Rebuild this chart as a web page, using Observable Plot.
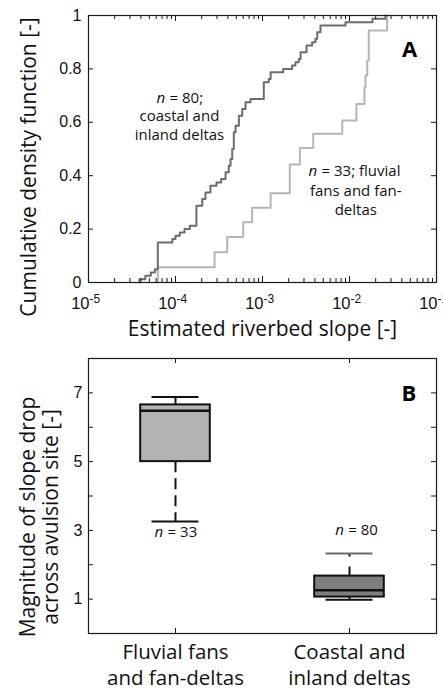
<!DOCTYPE html>
<html><head><meta charset="utf-8">
<script src="https://cdn.jsdelivr.net/npm/d3@7"></script>
<script src="https://cdn.jsdelivr.net/npm/@observablehq/plot@0.6"></script>
<style>
body{margin:0;background:#fff;width:443px;height:689px;overflow:hidden}
#chart svg{display:block;overflow:hidden}
</style></head><body><div id="chart"></div>
<script>
// ---------- Panel A: empirical CDFs of estimated riverbed slope ----------
const deltaSlope = [3.85e-5, 3.85e-5, 4.5e-5, 5.2e-5, 5.8e-5, 6.26e-5, 9.2e-5, 1.0e-4, 1.12e-4, 1.27e-4, 1.46e-4, 1.74e-4, 2.03e-4, 2.21e-4, 2.52e-4, 2.96e-4, 3.35e-4, 3.76e-4, 4.1e-4, 4.29e-4, 4.49e-4, 4.68e-4, 4.9e-4, 5.35e-4, 5.85e-4, 6.38e-4, 7.28e-4, 1.035e-3, 1.18e-3, 1.24e-3, 1.73e-3, 2.19e-3, 2.39e-3, 2.61e-3, 2.74e-3, 3.21e-3, 3.72e-3, 4.06e-3, 4.26e-3, 4.64e-3, 9.0e-3, 0.0184, 0.0259];
const deltaCdf = [0, 0.0125, 0.025, 0.0375, 0.05, 0.15, 0.1625, 0.175, 0.1875, 0.2, 0.2125, 0.2875, 0.3125, 0.3375, 0.3625, 0.375, 0.3875, 0.4125, 0.4375, 0.4625, 0.5, 0.5625, 0.5875, 0.625, 0.65, 0.675, 0.6875, 0.75, 0.7625, 0.7875, 0.8, 0.8125, 0.825, 0.8375, 0.8625, 0.8875, 0.9, 0.9125, 0.9375, 0.9625, 0.975, 0.9875, 1];
const fanSlope = [6.26e-5, 6.26e-5, 2.81e-4, 3.93e-4, 6.0e-4, 7.6e-4, 1.24e-3, 2.06e-3, 2.69e-3, 3.83e-3, 8.25e-3, 0.0120, 0.01486, 0.01527, 0.0160, 0.01666, 0.0271];
const fanCdf = [0, 0.057, 0.113, 0.17, 0.226, 0.28, 0.334, 0.442, 0.504, 0.557, 0.607, 0.669, 0.731, 0.775, 0.831, 0.944, 1];
const xDecades = [1e-5, 1e-4, 1e-3, 1e-2, 1e-1];
const xDecadeExponents = ["-5", "-4", "-3", "-2", "-1"];
const minorMultipliers = [2, 3, 4, 5, 6, 7, 8, 9];
const cdfTicks = [0, 0.2, 0.4, 0.6, 0.8, 1];
const cdfTickLabels = ["0", "0.2", "0.4", "0.6", "0.8", "1"];

// ---------- Panel B: slope drop box plots ----------
const categories = ["Fluvial fans\nand fan-deltas", "Coastal and\ninland deltas"];
const categoryPos = [1, 2];
const boxQ1 = [5.0, 1.06];
const boxMedian = [6.48, 1.26];
const boxQ3 = [6.65, 1.67];
const whiskerLow = [3.26, 0.98];
const whiskerHigh = [6.88, 2.33];
const sampleSizes = [33, 80];
const boxFills = ["#b3b3b3", "#7e7e7e"];
const upperCapColors = ["#111", "#6a6a6a"];
const slopeDropTicks = [1, 2, 3, 4, 5, 6, 7];
const slopeDropLabels = [1, 3, 5, 7];

const W = 443;
const SANS = "'Open Sans', sans-serif";
const TICKF = "'Liberation Sans', Arial, sans-serif";
const FRAME = "#1a1a1a";

// ---------- Panel A ----------
const A = {h: 345, mt: 15, mb: 63, ml: 88, mr: 7};
const fhA = A.h - A.mt - A.mb, fwA = W - A.ml - A.mr;
const deltaData = deltaSlope.map((x, i) => ({x, y: deltaCdf[i]}));
const fanData = fanSlope.map((x, i) => ({x, y: fanCdf[i]}));
const minorTicks = xDecades.slice(0, -1).flatMap(d => minorMultipliers.map(k => k * d));

const plotA = Plot.plot({
  width: W, height: A.h,
  marginTop: A.mt, marginBottom: A.mb, marginLeft: A.ml, marginRight: A.mr,
  x: {type: "log", domain: [1e-5, 1e-1], axis: null},
  y: {domain: [0, 1], axis: null},
  style: {background: "white"},
  marks: [
    Plot.line(fanData, {x: "x", y: "y", curve: "step-after", stroke: "#b5b5b5", strokeWidth: 2}),
    Plot.line(deltaData, {x: "x", y: "y", curve: "step-after", stroke: "#6c6c6c", strokeWidth: 2}),
    Plot.frame({stroke: FRAME, strokeWidth: 1.2}),
    Plot.tickX(xDecades, {x: Plot.identity, insetTop: fhA - 6, stroke: FRAME}),
    Plot.tickX(xDecades, {x: Plot.identity, insetBottom: fhA - 6, stroke: FRAME}),
    Plot.tickX(minorTicks, {x: Plot.identity, insetTop: fhA - 4, stroke: FRAME}),
    Plot.tickX(minorTicks, {x: Plot.identity, insetBottom: fhA - 4, stroke: FRAME}),
    Plot.tickY(cdfTicks, {y: Plot.identity, insetRight: fwA - 5, stroke: FRAME}),
    Plot.tickY(cdfTicks, {y: Plot.identity, insetLeft: fwA - 5, stroke: FRAME}),
    Plot.text(cdfTicks, {y: Plot.identity, text: (d, i) => cdfTickLabels[i], frameAnchor: "left", textAnchor: "end", dx: -7, fontFamily: TICKF, fontSize: 16, fill: "#111"}),
    Plot.text(xDecades, {x: Plot.identity, text: () => "10", frameAnchor: "bottom", textAnchor: "end", lineAnchor: "bottom", dx: 1, dy: 26, fontFamily: TICKF, fontSize: 16.5, fill: "#111"}),
    Plot.text(xDecades, {x: Plot.identity, text: (d, i) => xDecadeExponents[i], frameAnchor: "bottom", textAnchor: "start", lineAnchor: "bottom", dx: 1, dy: 20, fontFamily: TICKF, fontSize: 12, fill: "#111"}),
    Plot.text(["Estimated riverbed slope [-]"], {text: Plot.identity, frameAnchor: "bottom", lineAnchor: "bottom", dy: 53, fontFamily: SANS, fontSize: 21, fill: "#111"}),
    Plot.text(["Cumulative density function [-]"], {text: Plot.identity, frameAnchor: "left", textAnchor: "middle", rotate: -90, dx: -59, dy: 18, fontFamily: SANS, fontSize: 21, fill: "#111"}),
    // annotations
    Plot.text(["n"], {x: [6.05e-5], y: [0.674], text: Plot.identity, textAnchor: "start", lineAnchor: "bottom", fontStyle: "italic", fontFamily: SANS, fontSize: 15, fill: "#111"}),
    Plot.text(["= 80;"], {x: [6.05e-5], y: [0.674], text: Plot.identity, textAnchor: "start", lineAnchor: "bottom", dx: 13, fontFamily: SANS, fontSize: 15, fill: "#111"}),
    Plot.text(["coastal and\ninland deltas"], {x: [1.11e-4], y: [0.532], text: Plot.identity, lineAnchor: "bottom", lineHeight: 19 / 15, fontFamily: SANS, fontSize: 15, fill: "#111"}),
    Plot.text(["n"], {x: [3.38e-3], y: [0.40], text: Plot.identity, textAnchor: "start", lineAnchor: "bottom", fontStyle: "italic", fontFamily: SANS, fontSize: 15, fill: "#111"}),
    Plot.text(["= 33; fluvial"], {x: [3.38e-3], y: [0.40], text: Plot.identity, textAnchor: "start", lineAnchor: "bottom", dx: 13, fontFamily: SANS, fontSize: 15, fill: "#111"}),
    Plot.text(["fans and fan-\ndeltas"], {x: [0.0118], y: [0.251], text: Plot.identity, lineAnchor: "bottom", lineHeight: 19 / 15, fontFamily: SANS, fontSize: 15, fill: "#111"}),
    Plot.text(["A"], {x: [0.049], y: [0.846], text: Plot.identity, lineAnchor: "bottom", fontWeight: "bold", fontFamily: SANS, fontSize: 22, fill: "#000"})
  ]
});

// ---------- Panel B ----------
const B = {h: 344, mt: 13, mb: 56, ml: 88, mr: 7};
const fhB = B.h - B.mt - B.mb, fwB = W - B.ml - B.mr;
const boxes = categoryPos.map((pos, i) => ({
  pos, q1: boxQ1[i], med: boxMedian[i], q3: boxQ3[i], lo: whiskerLow[i], hi: whiskerHigh[i],
  fill: boxFills[i], cap: upperCapColors[i], n: sampleSizes[i]
}));
const halfBox = 0.2, halfCap = 0.135;
const nLabelX = [0.88, 1.918];
const nLabelY = [2.80, 2.86];

const boxMarks = boxes.flatMap((b, i) => [
  Plot.ruleX([b], {x: "pos", y1: "q1", y2: "lo", stroke: "#111", strokeWidth: 2, strokeDasharray: "11,6"}),
  Plot.ruleX([b], {x: "pos", y1: "q3", y2: "hi", stroke: "#111", strokeWidth: 2, strokeDasharray: "9,10"}),
  Plot.rect([b], {x1: d => d.pos - halfBox, x2: d => d.pos + halfBox, y1: "q1", y2: "q3", fill: b.fill, stroke: "#111", strokeWidth: 2}),
  Plot.ruleY([b], {y: "med", x1: d => d.pos - halfBox, x2: d => d.pos + halfBox, stroke: "#111", strokeWidth: 2.5}),
  Plot.ruleY([b], {y: "lo", x1: d => d.pos - halfCap, x2: d => d.pos + halfCap, stroke: "#111", strokeWidth: 2}),
  Plot.ruleY([b], {y: "hi", x1: d => d.pos - halfCap, x2: d => d.pos + halfCap, stroke: b.cap, strokeWidth: 2}),
  Plot.text(["n"], {x: [nLabelX[i]], y: [nLabelY[i]], text: Plot.identity, textAnchor: "start", lineAnchor: "bottom", fontStyle: "italic", fontFamily: SANS, fontSize: 15, fill: "#111"}),
  Plot.text([`= ${b.n}`], {x: [nLabelX[i]], y: [nLabelY[i]], text: Plot.identity, textAnchor: "start", lineAnchor: "bottom", dx: 13, fontFamily: SANS, fontSize: 15, fill: "#111"})
]);

const plotB = Plot.plot({
  width: W, height: B.h,
  marginTop: B.mt, marginBottom: B.mb, marginLeft: B.ml, marginRight: B.mr,
  x: {domain: [0.5, 2.5], axis: null},
  y: {domain: [0, 8], axis: null},
  style: {background: "white"},
  marks: [
    ...boxMarks,
    Plot.frame({stroke: FRAME, strokeWidth: 1.2}),
    Plot.tickX(categoryPos, {x: Plot.identity, insetTop: fhB - 5, stroke: FRAME}),
    Plot.tickX(categoryPos, {x: Plot.identity, insetBottom: fhB - 5, stroke: FRAME}),
    Plot.tickY(slopeDropTicks, {y: Plot.identity, insetRight: fwB - 5, stroke: FRAME}),
    Plot.tickY(slopeDropTicks, {y: Plot.identity, insetLeft: fwB - 5, stroke: FRAME}),
    Plot.text(slopeDropLabels, {y: Plot.identity, text: d => String(d), frameAnchor: "left", textAnchor: "end", dx: -6, fontFamily: TICKF, fontSize: 16, fill: "#111"}),
    Plot.text(categories, {x: (d, i) => categoryPos[i], text: Plot.identity, frameAnchor: "bottom", lineAnchor: "bottom", dy: 51, lineHeight: 25.5 / 20.5, fontFamily: SANS, fontSize: 20.5, fill: "#111"}),
    Plot.text(["Magnitude of slope drop\nacross avulsion site [-]"], {text: Plot.identity, frameAnchor: "left", textAnchor: "middle", rotate: -90, dx: -49, dy: 21, lineHeight: 23 / 21, fontFamily: SANS, fontSize: 21, fill: "#111"}),
    Plot.text(["B"], {x: [2.341], y: [6.75], text: Plot.identity, lineAnchor: "bottom", fontWeight: "bold", fontFamily: SANS, fontSize: 22, fill: "#000"})
  ]
});

const root = document.getElementById("chart");
root.append(plotA, plotB);
</script></body></html>
